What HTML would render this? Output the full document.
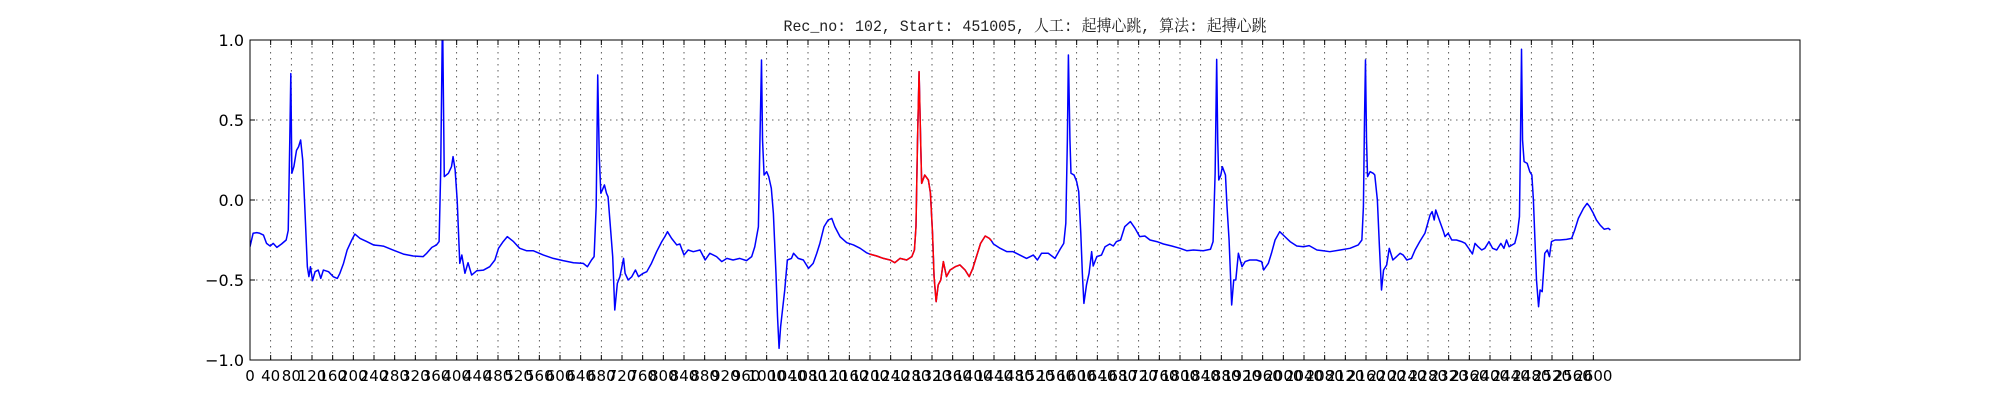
<!DOCTYPE html>
<html><head><meta charset="utf-8"><style>
html,body{margin:0;padding:0;background:#fff;width:2000px;height:400px;overflow:hidden}
svg{display:block}
</style></head>
<body>
<svg id="chart" width="2000" height="400" viewBox="0 0 2000 400" xmlns="http://www.w3.org/2000/svg">
<rect x="0" y="0" width="2000" height="400" fill="#fff"/>
<text x="1025" y="31" text-anchor="middle" font-family="'Liberation Mono','Noto Serif CJK SC',monospace" font-size="16" fill="#222" textLength="483" lengthAdjust="spacingAndGlyphs">Rec_no: 102, Start: 451005, 人工: 起搏心跳, 算法: 起搏心跳</text>
<g id="grid"></g>
<g id="series"></g>
<rect x="250" y="40" width="1550" height="320" fill="none" stroke="#000" stroke-width="1"/>
<g id="ticks"></g>
</svg>
<script>
const xTickLabels = [];
for (let v = 0; v <= 2600; v += 40) xTickLabels.push(String(v));
const yTickValues = [-1.0, -0.5, 0.0, 0.5, 1.0];
const yTickLabels = ["\u22121.0", "\u22120.5", "0.0", "0.5", "1.0"];
const redRange = [1199, 1435];
const sampleX = [0,6,13,19,26,32,39,45,52,61,70,74,77,79,81,85,90,94,98,102,106,111,114,117,121,126,132,137,142,152,161,169,174,181,188,197,203,213,226,239,258,277,297,316,335,342,352,361,366,369,372,373,376,384,390,393,397,401,406,410,416,422,429,439,452,464,474,481,490,498,510,522,535,548,568,587,606,626,645,653,661,666,670,673,676,679,682,686,690,693,697,702,706,711,716,723,726,732,739,746,752,761,768,777,787,797,803,808,816,826,832,840,848,858,871,881,890,903,913,923,935,948,961,971,977,984,987,990,992,995,1000,1004,1009,1013,1018,1021,1024,1027,1031,1035,1040,1048,1052,1061,1071,1081,1090,1097,1103,1111,1119,1126,1132,1142,1155,1168,1181,1193,1199,1213,1226,1239,1248,1258,1271,1281,1286,1289,1292,1295,1298,1300,1306,1313,1317,1321,1324,1328,1332,1337,1342,1348,1355,1365,1374,1384,1392,1399,1406,1414,1423,1431,1435,1439,1452,1465,1477,1490,1503,1516,1524,1532,1545,1558,1568,1575,1579,1582,1584,1587,1589,1595,1600,1604,1608,1611,1614,1619,1624,1629,1632,1639,1648,1655,1664,1671,1677,1685,1693,1704,1713,1722,1732,1742,1755,1768,1784,1800,1813,1826,1845,1859,1864,1868,1871,1873,1875,1879,1882,1888,1891,1895,1900,1904,1908,1913,1920,1926,1935,1948,1958,1962,1971,1977,1984,1993,2003,2013,2026,2039,2050,2065,2077,2090,2110,2129,2145,2152,2155,2157,2159,2161,2163,2168,2174,2177,2182,2186,2190,2194,2200,2205,2212,2219,2226,2232,2239,2248,2255,2264,2274,2284,2288,2292,2295,2303,2310,2313,2319,2326,2335,2345,2352,2361,2366,2371,2377,2384,2390,2398,2405,2413,2421,2427,2432,2437,2448,2453,2457,2459,2461,2463,2466,2472,2477,2481,2484,2487,2490,2494,2497,2501,2506,2511,2515,2519,2526,2535,2548,2558,2564,2571,2581,2588,2593,2600,2606,2613,2621,2629,2633];
const sampleY = [-0.292,-0.208,-0.204,-0.208,-0.219,-0.271,-0.288,-0.271,-0.296,-0.275,-0.25,-0.19,0.375,0.79,0.167,0.21,0.31,0.333,0.375,0.25,-0.04,-0.417,-0.479,-0.417,-0.504,-0.448,-0.438,-0.49,-0.438,-0.448,-0.479,-0.49,-0.458,-0.396,-0.313,-0.25,-0.213,-0.24,-0.26,-0.281,-0.288,-0.313,-0.338,-0.35,-0.354,-0.333,-0.296,-0.281,-0.26,0.167,1.0,1.05,0.146,0.167,0.208,0.271,0.188,0.0,-0.396,-0.344,-0.458,-0.392,-0.469,-0.442,-0.438,-0.417,-0.375,-0.302,-0.26,-0.229,-0.26,-0.302,-0.317,-0.317,-0.344,-0.365,-0.379,-0.392,-0.396,-0.417,-0.375,-0.354,-0.042,0.781,0.271,0.042,0.063,0.094,0.042,0.02,-0.146,-0.354,-0.6875,-0.521,-0.479,-0.365,-0.458,-0.5,-0.479,-0.4375,-0.479,-0.458,-0.448,-0.396,-0.323,-0.26,-0.229,-0.198,-0.24,-0.281,-0.275,-0.344,-0.3125,-0.323,-0.3125,-0.375,-0.333,-0.354,-0.385,-0.365,-0.375,-0.365,-0.379,-0.354,-0.292,-0.167,0.375,0.875,0.375,0.156,0.177,0.146,0.073,-0.083,-0.458,-0.729,-0.927,-0.792,-0.677,-0.5625,-0.375,-0.365,-0.333,-0.365,-0.375,-0.427,-0.396,-0.333,-0.271,-0.167,-0.125,-0.115,-0.167,-0.229,-0.267,-0.281,-0.302,-0.329,-0.3375,-0.35,-0.365,-0.375,-0.392,-0.365,-0.375,-0.354,-0.3125,-0.167,0.375,0.802,0.375,0.104,0.156,0.125,0.042,-0.208,-0.479,-0.635,-0.531,-0.5,-0.385,-0.479,-0.4375,-0.417,-0.406,-0.4375,-0.479,-0.427,-0.354,-0.271,-0.225,-0.24,-0.255,-0.275,-0.302,-0.323,-0.323,-0.344,-0.365,-0.344,-0.375,-0.333,-0.333,-0.365,-0.308,-0.271,-0.146,0.375,0.906,0.375,0.167,0.156,0.115,0.052,-0.208,-0.458,-0.646,-0.531,-0.458,-0.323,-0.4125,-0.354,-0.344,-0.292,-0.275,-0.2875,-0.26,-0.25,-0.167,-0.135,-0.177,-0.229,-0.225,-0.25,-0.26,-0.275,-0.2875,-0.302,-0.317,-0.3125,-0.317,-0.308,-0.26,0.167,0.879,0.375,0.125,0.156,0.208,0.156,-0.042,-0.25,-0.656,-0.5,-0.5,-0.333,-0.417,-0.385,-0.375,-0.375,-0.385,-0.4375,-0.396,-0.333,-0.25,-0.198,-0.229,-0.26,-0.2875,-0.292,-0.285,-0.3125,-0.317,-0.323,-0.3125,-0.302,-0.281,-0.25,-0.042,0.479,0.875,0.375,0.146,0.177,0.167,0.156,0.0,-0.292,-0.5625,-0.4375,-0.406,-0.302,-0.375,-0.354,-0.333,-0.344,-0.375,-0.365,-0.3125,-0.26,-0.208,-0.094,-0.073,-0.125,-0.0625,-0.135,-0.198,-0.229,-0.208,-0.25,-0.25,-0.26,-0.271,-0.3125,-0.3375,-0.271,-0.292,-0.3125,-0.302,-0.26,-0.302,-0.3125,-0.271,-0.302,-0.25,-0.292,-0.271,-0.208,-0.104,0.375,0.942,0.375,0.24,0.229,0.177,0.156,0.0,-0.25,-0.5,-0.667,-0.5625,-0.573,-0.333,-0.3125,-0.354,-0.26,-0.25,-0.25,-0.246,-0.24,-0.1875,-0.115,-0.052,-0.021,-0.042,-0.083,-0.125,-0.156,-0.183,-0.177,-0.1875];

const X0 = 250, X1 = 1800, Y0 = 40, Y1 = 360, XMAX = 3000;
function sx(v){ return X0 + v * (X1 - X0) / XMAX; }
function sy(v){ return Y1 - (v + 1) * (Y1 - Y0) / 2; }
const NS = "http://www.w3.org/2000/svg";
function mk(tag, attrs, parent){
  const e = document.createElementNS(NS, tag);
  for (const k in attrs) e.setAttribute(k, attrs[k]);
  parent.appendChild(e); return e;
}
const grid = document.getElementById('grid');
const ticks = document.getElementById('ticks');
const series = document.getElementById('series');

xTickLabels.forEach(function(lbl){
  const v = parseFloat(lbl), x = sx(v);
  if (v > 0) {
    const g = mk('line', {x1:x, x2:x, y1:Y0, y2:Y1, stroke:'#000', 'stroke-width':0.8, 'stroke-dasharray':'1.5,4.5', opacity:0.8}, grid);
    
    
  }
  const t1 = mk('line', {x1:x, x2:x, y1:Y1, y2:Y1-5, stroke:'#000', 'stroke-width':1}, ticks);
  
  
  const t2 = mk('line', {x1:x, x2:x, y1:Y0, y2:Y0+5, stroke:'#000', 'stroke-width':1}, ticks);
  
  
  const tx = mk('text', {x:x, y:Y1+21, 'text-anchor':'middle', 'font-family':"'DejaVu Sans','Liberation Sans',sans-serif", 'font-size':15, fill:'#000'}, ticks);
  tx.textContent = lbl;
  
  
});
yTickValues.forEach(function(v, i){
  const y = sy(v);
  if (v > -1 && v < 1) {
    const g = mk('line', {x1:X0, x2:X1, y1:y, y2:y, stroke:'#000', 'stroke-width':0.8, 'stroke-dasharray':'1.5,4.5', opacity:0.8}, grid);
    
    
  }
  const t1 = mk('line', {x1:X0, x2:X0+5, y1:y, y2:y, stroke:'#000', 'stroke-width':1}, ticks);
  
  
  const t2 = mk('line', {x1:X1, x2:X1-5, y1:y, y2:y, stroke:'#000', 'stroke-width':1}, ticks);
  
  
  const tx = mk('text', {x:X0-6, y:y+6, 'text-anchor':'end', 'font-family':"'DejaVu Sans','Liberation Sans',sans-serif", 'font-size':16, fill:'#000'}, ticks);
  tx.textContent = yTickLabels[i];
  
  
});

const defs = mk('defs', {}, series);
const cp = mk('clipPath', {id:'plotclip'}, defs);
mk('rect', {x:X0, y:Y0, width:X1-X0, height:Y1-Y0}, cp);

function pathFor(lo, hi){
  let d = '';
  for (let i = 0; i < sampleX.length; i++) {
    if (sampleX[i] < lo || sampleX[i] > hi) continue;
    d += (d ? 'L' : 'M') + sx(sampleX[i]).toFixed(2) + ',' + sy(sampleY[i]).toFixed(2);
  }
  return d;
}
const blue = mk('path', {d:pathFor(-1e9, 1e9), fill:'none', stroke:'#0000ff', 'stroke-width':1.5, 'stroke-linejoin':'round', 'clip-path':'url(#plotclip)'}, series);


const red = mk('path', {d:pathFor(redRange[0], redRange[1]), fill:'none', stroke:'#ff0000', 'stroke-width':1.5, 'stroke-linejoin':'round', 'clip-path':'url(#plotclip)'}, series);


</script>
</body></html>
